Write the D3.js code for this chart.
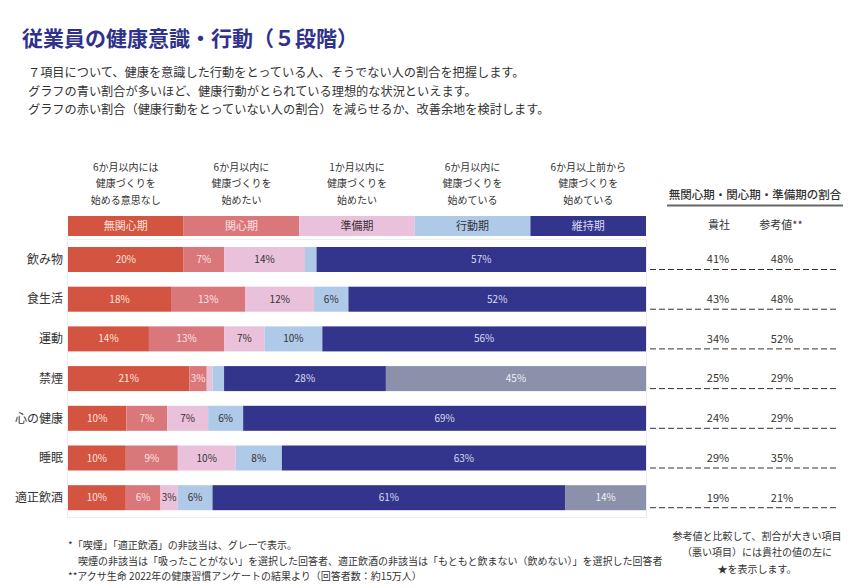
<!DOCTYPE html>
<html><head><meta charset="utf-8">
<script src="https://cdn.jsdelivr.net/npm/d3@7/dist/d3.min.js"></script>
<style>
body{margin:0;background:#fff;}
svg{font-family:"Noto Sans CJK JP","Noto Sans",sans-serif;}
</style></head>
<body><svg id="c" width="865" height="588"></svg>
<script>
const categories = ["飲み物","食生活","運動","禁煙","心の健康","睡眠","適正飲酒"];
const stages = ["無関心期","関心期","準備期","行動期","維持期","非該当"];
const stageNotes = [
  ["6か月以内には","健康づくりを","始める意思なし"],
  ["6か月以内に","健康づくりを","始めたい"],
  ["1か月以内に","健康づくりを","始めたい"],
  ["6か月以内に","健康づくりを","始めている"],
  ["6か月以上前から","健康づくりを","始めている"]
];
const mukanshin = [20,18,14,21,10,10,10];
const kanshin   = [7,13,13,3,7,9,6];
const junbi     = [14,12,7,1,7,10,3];
const kodo      = [2,6,10,2,6,8,6];
const iji       = [57,52,56,28,69,63,61];
const higaito   = [0,0,0,45,0,0,14];
const companyShare   = [41,43,34,25,24,29,19];
const referenceShare = [48,48,52,29,29,35,21];

const colors = ["#d35440","#d9777b","#eac1da","#afc9e9","#33358c","#8b91aa"];
const textColors = ["#fbe4dd","#fbe3e3","#333","#333","#d9daf2","#eef0f6"];

const series = [mukanshin,kanshin,junbi,kodo,iji,higaito];
const rows = categories.map((c,i)=>{
  const o={cat:c};
  stages.forEach((s,j)=>o[s]=series[j][i]);
  return o;
});

const svg = d3.select("#c");
const ink = "#333";

// Title & description
svg.append("text").attr("x",22).attr("y",46).attr("font-size",21).attr("font-weight","bold")
  .attr("fill","#2f318c").text("従業員の健康意識・行動（５段階）");
const desc = ["７項目について、健康を意識した行動をとっている人、そうでない人の割合を把握します。",
  "グラフの青い割合が多いほど、健康行動がとられている理想的な状況といえます。",
  "グラフの赤い割合（健康行動をとっていない人の割合）を減らせるか、改善余地を検討します。"];
desc.forEach((t,i)=>svg.append("text").attr("x",28).attr("y",77+i*18.5).attr("font-size",12.2)
  .attr("fill",ink).text(t));

const x = d3.scaleLinear().domain([0,1]).range([68,646]);
const y = d3.scaleBand().domain(categories).range([239.65,517.55]).paddingInner(0.37).paddingOuter(0.185);

// frame
svg.append("rect").attr("x",67.5).attr("y",239.5).attr("width",579).attr("height",278)
  .attr("fill","none").attr("stroke","#ececec");

// legend
const legendStages = stages.slice(0,5);
const lg = svg.append("g");
legendStages.forEach((s,i)=>{
  const x0 = x(i/5), x1 = x((i+1)/5);
  lg.append("rect").attr("x",x0).attr("y",216).attr("width",x1-x0).attr("height",20).attr("fill",colors[i]);
  lg.append("text").attr("x",(x0+x1)/2).attr("y",226).attr("dy","0.35em").attr("text-anchor","middle")
    .attr("font-size",11).attr("fill",textColors[i]).text(s);
  stageNotes[i].forEach((t,k)=>lg.append("text").attr("x",(x0+x1)/2).attr("y",167+k*16.5).attr("dy","0.35em")
    .attr("text-anchor","middle").attr("font-size",10).attr("fill",ink).text(t));
});

// stacked bars
const stack = d3.stack().keys(stages).offset(d3.stackOffsetExpand);
const stacked = stack(rows);
const layers = svg.append("g").selectAll("g").data(stacked).join("g")
  .attr("fill",(d,i)=>colors[i]);
layers.selectAll("rect").data(d=>d).join("rect")
  .attr("x",d=>x(d[0])).attr("width",d=>Math.max(0,x(d[1])-x(d[0])))
  .attr("y",d=>y(d.data.cat)).attr("height",y.bandwidth());
const lbl = svg.append("g").selectAll("g").data(stacked).join("g")
  .attr("fill",(d,i)=>textColors[i]);
lbl.selectAll("text").data(d=>d.map(v=>({v,key:d.key}))).join("text")
  .filter(d=>d.v.data[d.key]>=3)
  .attr("x",d=>(x(d.v[0])+x(d.v[1]))/2).attr("y",d=>y(d.v.data.cat)+y.bandwidth()/2)
  .attr("dy","0.35em").attr("text-anchor","middle").attr("font-size",10)
  .text(d=>d.v.data[d.key]+"%");

// category labels
svg.append("g").selectAll("text").data(categories).join("text")
  .attr("x",63).attr("y",d=>y(d)+y.bandwidth()/2).attr("dy","0.35em").attr("text-anchor","end")
  .attr("font-size",12).attr("fill",ink).text(d=>d);

// right table
svg.append("text").attr("x",755).attr("y",195).attr("dy","0.35em").attr("text-anchor","middle")
  .attr("font-size",11.5).attr("font-weight",500).attr("fill",ink).text("無関心期・関心期・準備期の割合");
svg.append("line").attr("x1",667).attr("x2",843).attr("y1",205.5).attr("y2",205.5)
  .attr("stroke","#666").attr("stroke-width",2);
svg.append("text").attr("x",719).attr("y",225).attr("dy","0.35em").attr("text-anchor","middle")
  .attr("font-size",11).attr("fill",ink).text("貴社");
svg.append("text").attr("x",781).attr("y",225).attr("dy","0.35em").attr("text-anchor","middle")
  .attr("font-size",11).attr("fill",ink).text("参考値**");
const tg = svg.append("g");
categories.forEach((c,i)=>{
  const cy = y(c)+y.bandwidth()/2;
  tg.append("text").attr("x",718).attr("y",cy).attr("dy","0.35em").attr("text-anchor","middle")
    .attr("font-size",11).attr("fill",ink).text(companyShare[i]+"%");
  tg.append("text").attr("x",782).attr("y",cy).attr("dy","0.35em").attr("text-anchor","middle")
    .attr("font-size",11).attr("fill",ink).text(referenceShare[i]+"%");
  tg.append("line").attr("x1",650).attr("x2",838).attr("y1",y(c)+y.bandwidth()-2.5).attr("y2",y(c)+y.bandwidth()-2.5)
    .attr("stroke","#333").attr("stroke-dasharray","6,3");
});

// footnotes
const fn = [
  {x:68,y:545,t:"*「喫煙」「適正飲酒」の非該当は、グレーで表示。"},
  {x:78,y:561,t:"喫煙の非該当は「吸ったことがない」を選択した回答者、適正飲酒の非該当は「もともと飲まない（飲めない）」を選択した回答者"},
  {x:68,y:576,t:"**アクサ生命 2022年の健康習慣アンケートの結果より（回答者数：約15万人）"}
];
fn.forEach(f=>svg.append("text").attr("x",f.x).attr("y",f.y).attr("dy","0.35em").attr("font-size",10)
  .attr("fill",ink).text(f.t));
["参考値と比較して、割合が大きい項目","（悪い項目）には貴社の値の左に","★を表示します。"].forEach((t,i)=>
  svg.append("text").attr("x",757).attr("y",536+i*16.5).attr("dy","0.35em").attr("text-anchor","middle")
  .attr("font-size",10).attr("fill",ink).text(t));
</script></body></html>
